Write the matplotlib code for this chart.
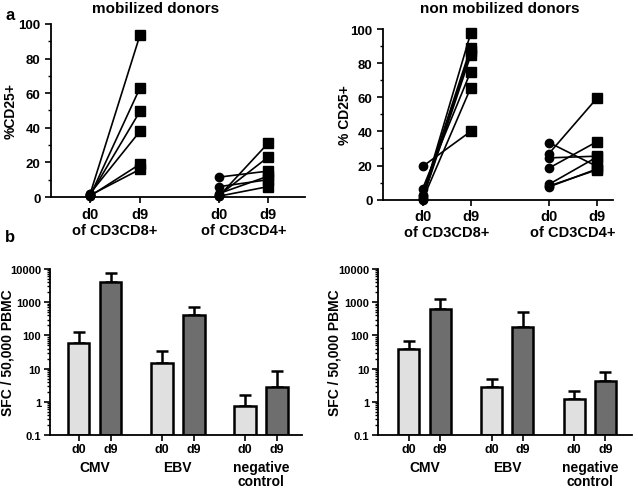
import numpy as np
import matplotlib.pyplot as plt
from matplotlib.ticker import MultipleLocator, LogLocator, NullFormatter, FixedLocator
import matplotlib.transforms as mtransforms

plt.rcParams['font.family'] = ['Liberation Sans', 'DejaVu Sans']
plt.rcParams['font.weight'] = 'bold'

# ---- panel a data (% CD25+) ----
mob_cd8_d0 = [1.5, 0.5, 1.0, 2.0, 0.5, 1.0]
mob_cd8_d9 = [93.5, 63, 49.5, 38, 19, 16]
mob_cd4_d0 = [0.5, 1.0, 11.5, 2.0, 6.0, 0.5]
mob_cd4_d9 = [31, 23, 15, 12, 10, 6]

non_cd8_d0 = [2.0, 3.0, 1.0, 0.5, 6.5, 0.0, 19.5]
non_cd8_d9 = [97.5, 89, 87, 84.5, 75, 65.5, 40]
non_cd4_d0 = [27, 33.5, 24.5, 18.5, 9, 7.5, 8]
non_cd4_d9 = [59.5, 19.5, 25.5, 34, 25, 18, 17.5]

# ---- panel b data (SFC / 50,000 PBMC) ----
antigens = ["CMV", "EBV", "negative\ncontrol"]
day_labels = ["d0", "d9"]
mob_mean_d0 = [59, 14.7, 0.75]
mob_top_d0 = [130, 34, 1.6]
mob_mean_d9 = [4000, 410, 2.8]
mob_top_d9 = [7400, 720, 8.5]
non_mean_d0 = [39, 2.75, 1.2]
non_top_d0 = [66, 4.8, 2.1]
non_mean_d9 = [610, 182, 4.2]
non_top_d9 = [1250, 520, 7.8]

fig = plt.figure(figsize=(6.38, 4.89), dpi=100)


def style_axes(ax):
    for s in ["top", "right"]:
        ax.spines[s].set_visible(False)
    for s in ["left", "bottom"]:
        ax.spines[s].set_linewidth(1.3)
    ax.tick_params(axis="both", which="major", width=1.2, length=4, direction="out")
    ax.tick_params(axis="both", which="minor", width=1.0, length=2.5, direction="out")


def pair_panel(ax, rect_x, groups, group_names, ylabel, label_x):
    (x0, x1, x2, x3), xlim = rect_x
    for (d0, d9), (xa, xb) in zip(groups, [(x0, x1), (x2, x3)]):
        for a, b in zip(d0, d9):
            ax.plot([xa, xb], [a, b], color="black", lw=1.2, zorder=2)
        ax.plot([xa] * len(d0), d0, "o", color="black", ms=6, zorder=3, clip_on=False)
        ax.plot([xb] * len(d9), d9, "s", color="black", ms=6.5, zorder=3, clip_on=False)
    ax.set_ylim(0, 100)
    ax.set_xlim(*xlim)
    ax.yaxis.set_major_locator(MultipleLocator(20))
    ax.yaxis.set_minor_locator(MultipleLocator(10))
    ax.set_xticks([x0, x1, x2, x3])
    ax.set_xticklabels(["d0", "d9", "d0", "d9"], fontsize=10.5)
    ax.tick_params(axis="y", labelsize=9.5)
    ax.tick_params(axis="x", pad=3)
    style_axes(ax)
    ax.set_ylabel(ylabel, fontsize=10, fontweight="bold")
    ax.yaxis.set_label_coords(label_x, 0.5)
    trans = mtransforms.blended_transform_factory(ax.transData, ax.transAxes)
    for name, xc in zip(group_names, [(x0 + x1) / 2, (x2 + x3) / 2]):
        ax.text(xc, -0.19, name, transform=trans, ha="center", va="center",
                fontsize=10.5, fontweight="bold")


ax1 = fig.add_axes([0.0799, 0.595, 0.398, 0.354])
pair_panel(ax1, ((0, 1, 2.58, 3.56), (-0.78, 4.3)),
           [(mob_cd8_d0, mob_cd8_d9), (mob_cd4_d0, mob_cd4_d9)],
           ["of CD3CD8+", "of CD3CD4+"], "%CD25+", -0.13)

ax2 = fig.add_axes([0.600, 0.5896, 0.3605, 0.349])
pair_panel(ax2, ((0, 1, 2.63, 3.63), (-0.83, 3.96)),
           [(non_cd8_d0, non_cd8_d9), (non_cd4_d0, non_cd4_d9)],
           ["of CD3CD8+", "of CD3CD4+"], "% CD25+", -0.135)

fig.text(156 / 638, 1 - 9 / 489, "mobilized donors", ha="center", va="center",
         fontsize=11, fontweight="bold")
fig.text(500 / 638, 1 - 9 / 489, "non mobilized donors", ha="center", va="center",
         fontsize=11, fontweight="bold")


def bar_panel(ax, gap, xlim, m0, t0, m9, t9, label_x):
    base = 0.1
    pos0 = np.arange(len(antigens)) * gap
    pos9 = pos0 + 1
    w = 0.67
    for pos, m, t, col in [(pos0, m0, t0, "#e0e0e0"), (pos9, m9, t9, "#6e6e6e")]:
        m = np.array(m)
        t = np.array(t)
        ax.bar(pos, m - base, bottom=base, width=w, color=col, edgecolor="black",
               linewidth=1.8, zorder=2)
        ax.errorbar(pos, m, yerr=[np.zeros_like(m), t - m], fmt="none",
                    ecolor="black", elinewidth=1.8, capsize=4, capthick=1.8, zorder=1)
    ax.set_yscale("log")
    ax.set_ylim(0.1, 10000)
    ax.set_xlim(*xlim)
    ax.yaxis.set_major_locator(FixedLocator([0.1, 1, 10, 100, 1000, 10000]))
    ax.yaxis.set_minor_locator(LogLocator(base=10, subs=np.arange(2, 10)))
    ax.yaxis.set_minor_formatter(NullFormatter())
    ax.set_yticklabels(["0.1", "1", "10", "100", "1000", "10000"])
    ticks = np.sort(np.concatenate([pos0, pos9]))
    ax.set_xticks(ticks)
    ax.set_xticklabels(day_labels * len(antigens), fontsize=9)
    ax.tick_params(axis="y", labelsize=8, pad=2.5)
    ax.tick_params(axis="x", pad=2)
    style_axes(ax)
    ax.set_ylabel("SFC / 50,000 PBMC", fontsize=10, fontweight="bold")
    ax.yaxis.set_label_coords(label_x, 0.5)
    trans = mtransforms.blended_transform_factory(ax.transData, ax.transAxes)
    for name, xc in zip(antigens, (pos0 + pos9) / 2):
        ax.text(xc, -0.15, name, transform=trans, ha="center", va="top",
                fontsize=10, fontweight="bold", linespacing=1.05)


ax3 = fig.add_axes([0.0784, 0.1084, 0.3945, 0.3395])
bar_panel(ax3, 2.6, (-0.89, 6.97), mob_mean_d0, mob_top_d0, mob_mean_d9, mob_top_d9, -0.14)

ax4 = fig.add_axes([0.593, 0.1084, 0.397, 0.3395])
bar_panel(ax4, 2.65, (-0.98, 7.14), non_mean_d0, non_top_d0, non_mean_d9, non_top_d9, -0.145)

fig.text(0.008, 1 - 15 / 489, "a", fontsize=12, fontweight="bold", va="center")
fig.text(0.008, 1 - 238 / 489, "b", fontsize=12, fontweight="bold", va="center")

fig.savefig("out.png", dpi=100)
